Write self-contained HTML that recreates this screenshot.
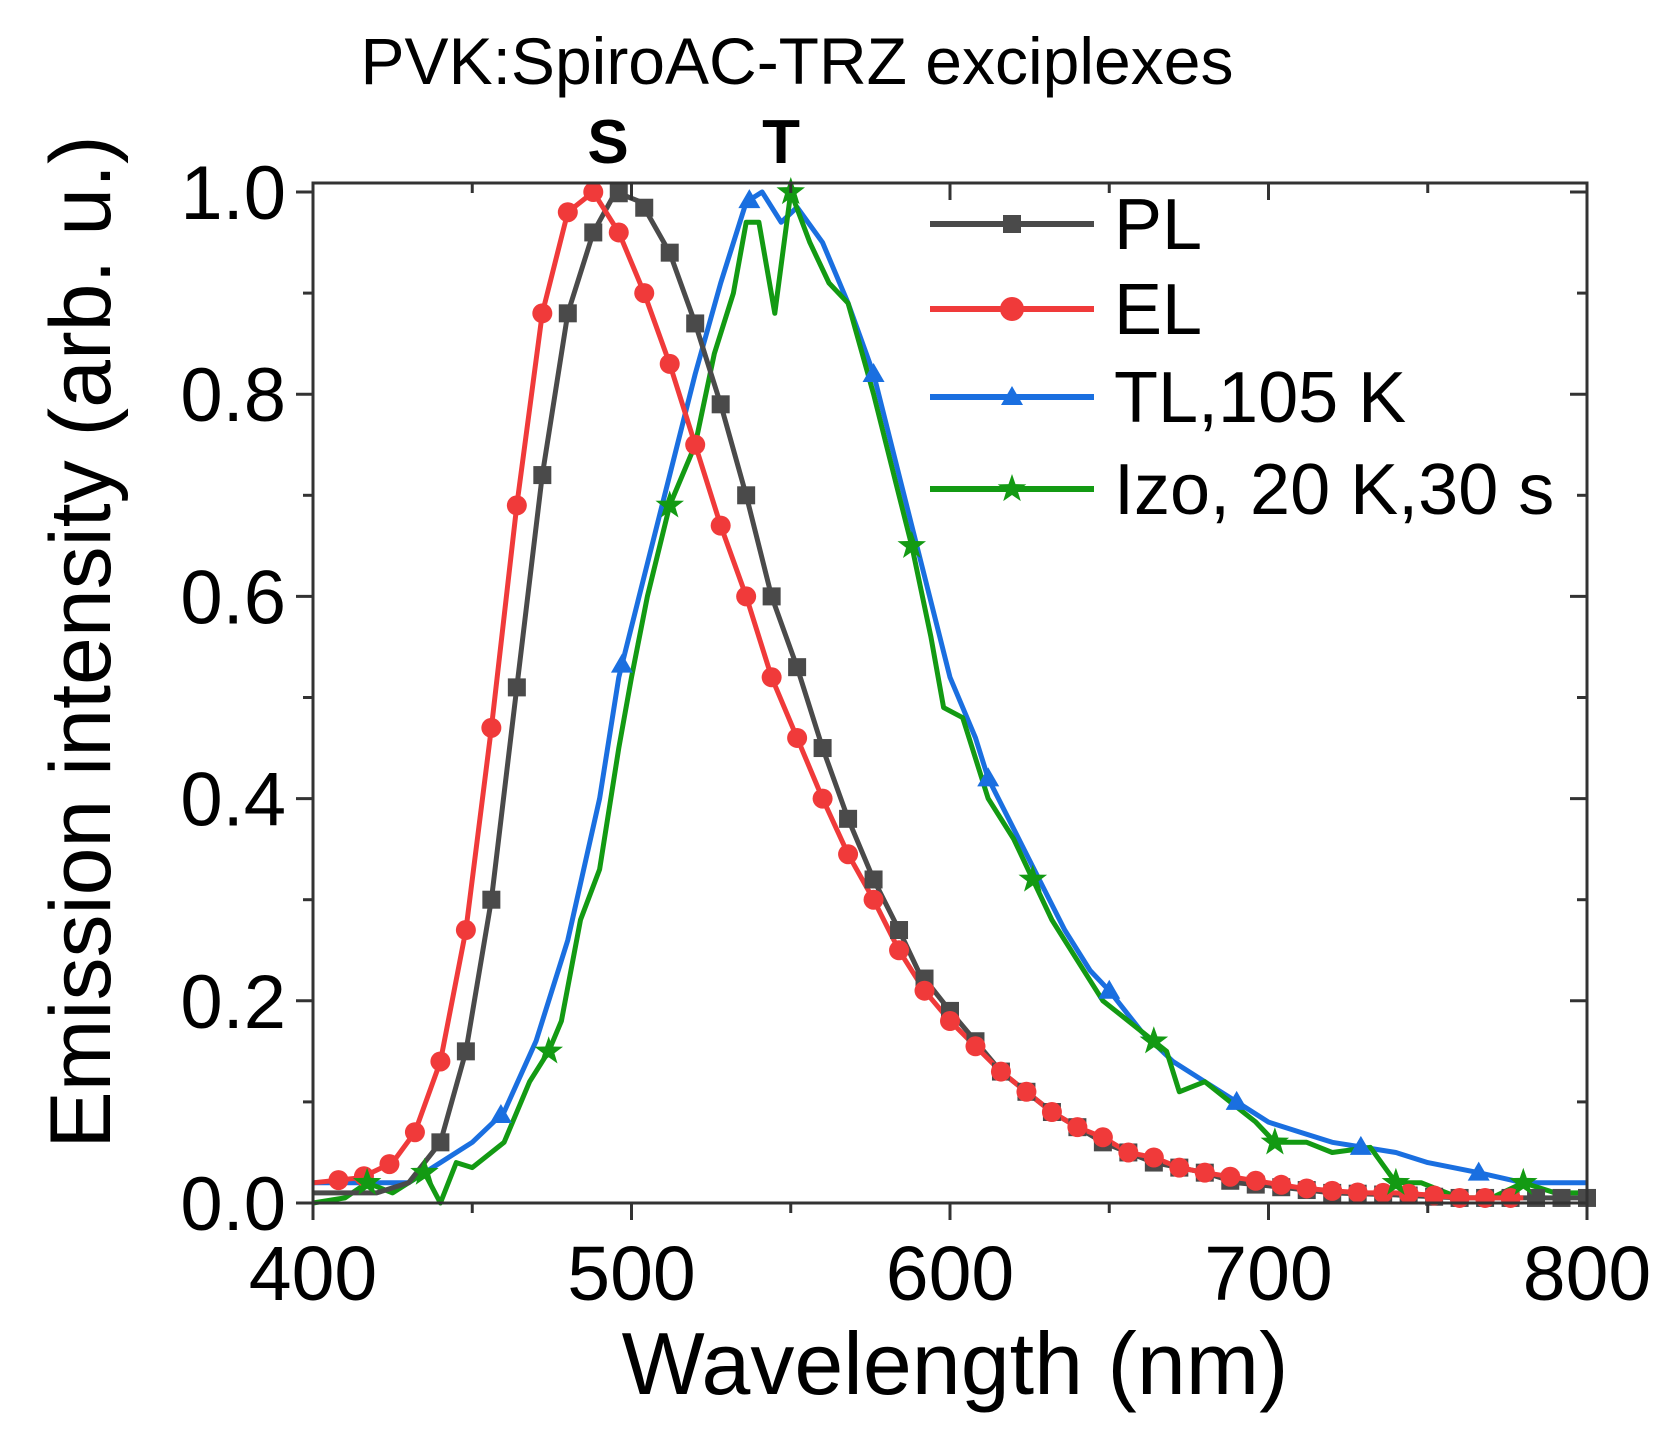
<!DOCTYPE html>
<html><head><meta charset="utf-8"><style>
body{margin:0;background:#fff}
svg{display:block}
text{font-family:"Liberation Sans",Arial,sans-serif;fill:#000}
</style></head><body>
<svg id="s" width="1669" height="1437" viewBox="0 0 1669 1437" xmlns="http://www.w3.org/2000/svg">
<text x="797" y="84" font-size="66" text-anchor="middle">PVK:SpiroAC-TRZ exciplexes</text>
<text x="608" y="163" font-size="62" font-weight="bold" text-anchor="middle">S</text>
<text x="781" y="163" font-size="62" font-weight="bold" text-anchor="middle">T</text>
<text x="955" y="1394" font-size="88" text-anchor="middle">Wavelength (nm)</text>
<text transform="translate(110,642) rotate(-90)" font-size="86" text-anchor="middle">Emission intensity (arb. u.)</text>
<g id="g"></g>
</svg>
<script>
const X=v=>313+(v-400)*1274/400, Y=v=>1203-1011*v;
const g=document.getElementById('g');let h='';
const PL=[[400,0.01],[420,0.01],[430,0.02],[440,0.06],[448,0.15],[456,0.3],[464,0.51],[472,0.72],[480,0.88],[488,0.96],[495,1.0],[503,0.99],[512,0.94],[520,0.87],[528,0.79],[536,0.70],[544,0.60],[552,0.53],[560,0.45],[568,0.38],[576,0.32],[584,0.27],[590,0.23],[600,0.19],[608,0.16],[616,0.13],[624,0.11],[632,0.09],[640,0.075],[648,0.06],[656,0.05],[664,0.04],[672,0.035],[680,0.03],[690,0.02],[700,0.017],[720,0.01],[740,0.008],[760,0.005],[780,0.005],[800,0.005]];
const EL=[[400,0.02],[415,0.025],[425,0.04],[432,0.07],[440,0.14],[448,0.27],[456,0.47],[464,0.69],[472,0.88],[480,0.98],[488,1.0],[496,0.96],[504,0.90],[512,0.83],[520,0.75],[528,0.67],[536,0.60],[544,0.52],[552,0.46],[560,0.40],[568,0.345],[576,0.30],[584,0.25],[592,0.21],[600,0.18],[608,0.155],[616,0.13],[624,0.11],[632,0.09],[640,0.075],[648,0.065],[656,0.05],[664,0.045],[672,0.035],[680,0.03],[690,0.025],[700,0.02],[710,0.015],[720,0.012],[730,0.01],[740,0.01],[750,0.008],[760,0.005],[770,0.005],[780,0.005]];
const TL=[[400,0.02],[430,0.02],[440,0.04],[450,0.06],[460,0.09],[470,0.16],[480,0.26],[490,0.40],[496,0.52],[504,0.62],[512,0.72],[520,0.82],[528,0.91],[536,0.99],[541,1.0],[547,0.97],[552,0.985],[560,0.95],[568,0.89],[576,0.82],[584,0.72],[592,0.62],[600,0.52],[608,0.46],[612,0.42],[620,0.37],[628,0.32],[636,0.27],[644,0.23],[650,0.21],[660,0.17],[670,0.14],[680,0.12],[690,0.10],[700,0.08],[710,0.07],[720,0.06],[730,0.055],[740,0.05],[750,0.04],[766,0.03],[780,0.02],[800,0.02]];
const IZ=[[400,0],[410,0.005],[417,0.02],[425,0.01],[435,0.03],[440,0],[445,0.04],[450,0.035],[460,0.06],[468,0.12],[474,0.15],[478,0.18],[484,0.28],[490,0.33],[496,0.45],[500,0.52],[505,0.60],[512,0.69],[520,0.75],[526,0.84],[532,0.90],[536,0.97],[540,0.97],[545,0.88],[550,1.0],[556,0.95],[562,0.91],[568,0.89],[576,0.80],[584,0.70],[588,0.65],[594,0.56],[598,0.49],[604,0.48],[612,0.40],[620,0.36],[626,0.32],[632,0.28],[640,0.24],[648,0.20],[656,0.18],[664,0.16],[668,0.15],[672,0.11],[680,0.12],[688,0.10],[696,0.08],[702,0.06],[712,0.06],[720,0.05],[732,0.055],[740,0.02],[748,0.02],[760,0.005],[770,0.005],[780,0.02],[790,0.01],[800,0.01]];
function line(d,c){return `<polyline fill="none" stroke="${c}" stroke-width="5" stroke-linejoin="round" points="${d.map(p=>X(p[0]).toFixed(1)+','+Y(p[1]).toFixed(1)).join(' ')}"/>`}
function sq(x,y,c){return `<rect x="${x-9}" y="${y-9}" width="18" height="18" fill="${c}"/>`}
function ci(x,y,c){return `<circle cx="${x}" cy="${y}" r="10" fill="${c}"/>`}
function tr(x,y,c){return `<polygon points="${x},${y-11} ${x+11},${y+8} ${x-11},${y+8}" fill="${c}"/>`}
function st(x,y,c){let p=[];for(let i=0;i<10;i++){let r=i%2?6:15,a=-Math.PI/2+i*Math.PI/5;p.push((x+r*Math.cos(a)).toFixed(1)+','+(y+r*Math.sin(a)).toFixed(1))}return `<polygon points="${p.join(' ')}" fill="${c}"/>`}
function interp(d,x){for(let i=1;i<d.length;i++)if(x<=d[i][0]){let a=d[i-1],b=d[i];return a[1]+(b[1]-a[1])*(x-a[0])/(b[0]-a[0])}return d[d.length-1][1]}
h+=line(TL,'#1a6fe0')+line(IZ,'#139a13')+line(PL,'#4a4a4a')+line(EL,'#f03a3a');
for(let x=440;x<=800;x+=8)h+=sq(X(x),Y(interp(PL,x)),'#4a4a4a');
for(let x=408;x<=780;x+=8)h+=ci(X(x),Y(interp(EL,x)),'#f03a3a');
for(let x of [459,497,537,576,612,650,690,729,766])h+=tr(X(x),Y(interp(TL,x)),'#1a6fe0');
for(let x of [417,435,474,512,550,588,626,664,702,740,780])h+=st(X(x),Y(interp(IZ,x)),'#139a13');
h+=`<rect x="313" y="183" width="1274" height="1020" fill="none" stroke="#333" stroke-width="3"/>`;
for(let v=400;v<=800;v+=50){let x=X(v),L=v%100?10:17;h+=`<line x1="${x}" y1="1203" x2="${x}" y2="${1203+L}" stroke="#333" stroke-width="3"/><line x1="${x}" y1="183" x2="${x}" y2="${183+L}" stroke="#333" stroke-width="3"/>`;if(v%100==0)h+=`<text x="${x}" y="1300" font-size="77" text-anchor="middle">${v}</text>`}
for(let i=0;i<=10;i++){let v=i/10,y=Y(v),L=i%2?10:17;h+=`<line x1="313" y1="${y}" x2="${313-L}" y2="${y}" stroke="#333" stroke-width="3"/><line x1="1587" y1="${y}" x2="${1587-L}" y2="${y}" stroke="#333" stroke-width="3"/>`;if(i%2==0)h+=`<text x="286" y="${y+27}" font-size="76" text-anchor="end">${v.toFixed(1)}</text>`}
const lg=[['PL','#4a4a4a',sq],['EL','#f03a3a',ci],['TL,105 K','#1a6fe0',tr],['Izo, 20 K,30 s','#139a13',st]];
[224,309,397,489].forEach((y,i)=>{let[t,c,f]=lg[i];h+=`<line x1="930" y1="${y}" x2="1094" y2="${y}" stroke="${c}" stroke-width="6"/>`+f(1012,y,c).replace(/r="10"/,'r="12"')+`<text x="1114" y="${y+25}" font-size="72">${t}</text>`});
g.innerHTML=h;
</script>
</body></html>
